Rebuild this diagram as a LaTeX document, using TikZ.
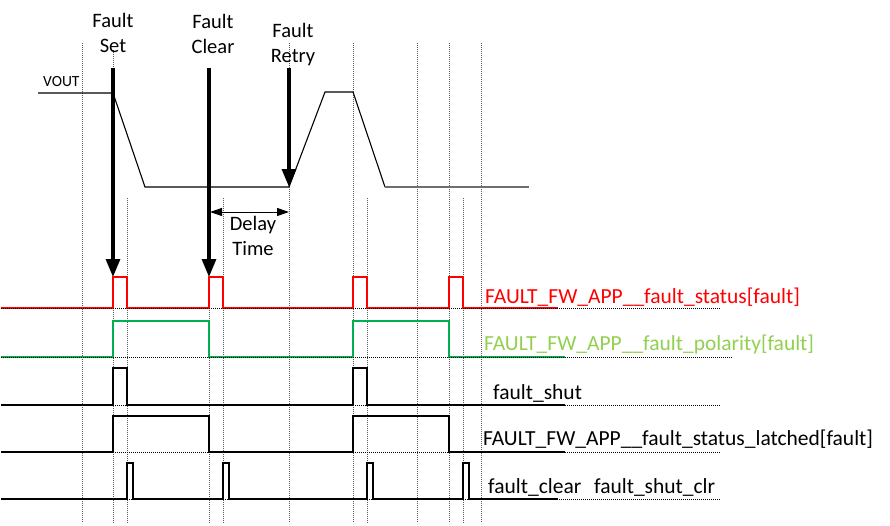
\documentclass[tikz,border=0pt]{standalone}
\usepackage{fontspec}
\setmainfont{Carlito}
\usetikzlibrary{arrows.meta}
\definecolor{sigred}{RGB}{255,0,0}
\definecolor{siggreen}{RGB}{0,176,80}
\definecolor{lblgreen}{RGB}{146,208,80}
\definecolor{gridgray}{RGB}{90,90,90}
\definecolor{voutgray}{RGB}{110,110,110}
\begin{document}
\begin{tikzpicture}[x=1pt,y=-1pt,
  vgrid/.style={draw=gridgray, line width=0.8pt, dash pattern=on 1pt off 1pt},
  hgrid/.style={draw=black, line width=0.8pt, dash pattern=on 1pt off 1pt},
  wave/.style={line width=2pt, line join=miter},
  vout/.style={line width=1.1pt, line join=miter},
  bigarrow/.style={line width=3.2pt, -{Triangle[length=18pt,width=14pt]}},
  delayarrow/.style={line width=1pt, {Triangle[length=12pt,width=8pt]}-{Triangle[length=12pt,width=8pt]}},
  toplbl/.style={font=\fontsize{20.5}{24}\selectfont, anchor=base, inner sep=0pt},
  siglbl/.style={font=\fontsize{21.5}{24}\selectfont, anchor=base west, inner sep=0pt},
  voutlbl/.style={font=\fontsize{15.5}{18}\selectfont, anchor=base west, inner sep=0pt}]
\useasboundingbox (0,0) rectangle (890,525);
\fill[white] (0,0) rectangle (890,525);

% vertical dotted grid lines
\foreach \x in {82,289,353,417,449,481} \draw[vgrid] (\x,43) -- (\x,523);
\draw[vgrid] (113,50) -- (113,523);
\draw[vgrid] (209,68) -- (209,523);
\foreach \x in {127,223,367,463} \draw[vgrid] (\x,198) -- (\x,523);

% VOUT waveform
\node[voutlbl] (voutl) at (43,86) {VOUT};
\draw[vout] (38,93) -- (113,93) -- (145,187) -- (289,187) -- (325,92) -- (353,92) -- (385,187);
\draw[vout, draw=voutgray, line width=1.8pt] (385,187) -- (529,187);

% top labels
\node[toplbl] (setA) at (113,27) {Fault};
\node[toplbl] (setB) at (113,52) {Set};
\node[toplbl] (clrA) at (213,28) {Fault};
\node[toplbl] (clrB) at (213,53) {Clear};
\node[toplbl] (retA) at (293,37) {Fault};
\node[toplbl] (retB) at (293,62) {Retry};

% event arrows
\coordinate (setTop) at (113,68);  \coordinate (setTip) at (113,277);
\coordinate (clrTop) at (209,68);  \coordinate (clrTip) at (209,277);
\coordinate (retTop) at (289,68);  \coordinate (retTip) at (289,187);
\draw[bigarrow] (setTop) -- (setTip);
\draw[bigarrow] (clrTop) -- (clrTip);
\draw[bigarrow] (retTop) -- (retTip);

% delay time
\coordinate (dL) at (210,212); \coordinate (dR) at (289,212);
\draw[delayarrow] (dL) -- (dR);
\node[toplbl] (delayA) at (253,230) {Delay};
\node[toplbl] (delayB) at (253,255) {Time};

% FAULT_FW_APP__fault_status[fault]
\draw[wave, sigred] (1,308) -- (113,308) -- (113,277) -- (127,277) -- (127,308) -- (209,308) -- (209,277) -- (223,277) -- (223,308) -- (353,308) -- (353,277) -- (367,277) -- (367,308) -- (449,308) -- (449,277) -- (463,277) -- (463,308) -- (558,308);
\draw[hgrid] (1,308) -- (720,308);
\node[siglbl, text=sigred] (l1) at (485,303) {FAULT\_FW\_APP\_\_fault\_status[fault]};

% polarity
\draw[wave, siggreen] (1,357) -- (113,357) -- (113,321) -- (209,321) -- (209,357) -- (353,357) -- (353,321) -- (449,321) -- (449,357) -- (565,357);
\draw[hgrid] (1,357) -- (732,357);
\node[siglbl, text=lblgreen] (l2) at (484,350) {FAULT\_FW\_APP\_\_fault\_polarity[fault]};

% fault_shut
\draw[wave] (1,405) -- (113,405) -- (113,368) -- (127,368) -- (127,405) -- (353,405) -- (353,368) -- (367,368) -- (367,405) -- (565,405);
\draw[hgrid] (1,405) -- (720,405);
\node[siglbl] (l3) at (493,399) {fault\_shut};

% latched
\draw[wave] (1,452) -- (113,452) -- (113,416) -- (209,416) -- (209,452) -- (353,452) -- (353,416) -- (449,416) -- (449,452) -- (565,452);
\draw[hgrid] (1,452) -- (720,452);
\node[siglbl] (l4) at (483,445) {FAULT\_FW\_APP\_\_fault\_status\_latched[fault]};

% fault_clear
\draw[wave] (1,499) -- (127,499) -- (127,463) -- (133,463) -- (133,499) -- (223,499) -- (223,463) -- (229,463) -- (229,499) -- (367,499) -- (367,463) -- (373,463) -- (373,499) -- (463,499) -- (463,463) -- (469,463) -- (469,499) -- (558,499);
\draw[hgrid] (1,499) -- (720,499);
\node[siglbl] (l5) at (488,493) {fault\_clear\hspace{8pt} fault\_shut\_clr};
\end{tikzpicture}
\end{document}
